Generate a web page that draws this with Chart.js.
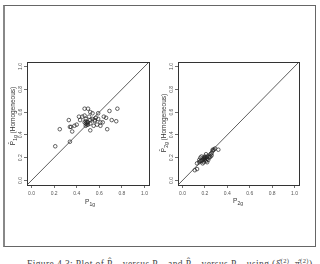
<!DOCTYPE html>
<html>
<head>
<meta charset="utf-8">
<script src="https://cdn.jsdelivr.net/npm/chart.js@4/dist/chart.umd.min.js"></script>
<style>
  body { margin: 0; width: 320px; height: 264px; background: #fff; position: relative; overflow: hidden; }
  #frame { position: absolute; left: 3px; top: 5px; width: 310px; height: 240px; border: 1px solid #666; border-left: 2px solid #888; }
  canvas { position: absolute; }
  .lab { position: absolute; font-family: "Liberation Sans", Arial, sans-serif; font-size: 6.5px; color: #333; white-space: nowrap; }
  .rot { transform: translate(-50%, -50%) rotate(-90deg); }
  .hz { transform: translate(-50%, -50%); }
  .lab sub { font-size: 5px; vertical-align: -2px; line-height: 0; }
  #caption { position: absolute; left: 27px; top: 256px; font-family: "Liberation Serif", "DejaVu Serif", serif; font-size: 9.5px; line-height: 10px; letter-spacing: 0.4px; color: #444; white-space: nowrap; }
  #caption sub { font-size: 6.5px; }
  #caption sup { font-size: 6.5px; }
</style>
</head>
<body>
<div id="frame"></div>
<canvas id="chart1" width="155" height="160" style="left:0px; top:50px;"></canvas>
<canvas id="chart2" width="160" height="160" style="left:155px; top:50px;"></canvas>

<div class="lab rot" style="left:12px; top:116px;">P&#770;<sub>1g</sub> (Homogeneous)</div>
<div class="lab hz" style="left:90px; top:201px;">P<sub>1g</sub></div>
<div class="lab rot" style="left:163px; top:123px;">P&#770;<sub>2g</sub> (Homogeneous)</div>
<div class="lab hz" style="left:238px; top:200px;">P<sub>2g</sub></div>

<div id="caption">Figure 4.3: Plot of P&#770;<sub>1g</sub> versus P<sub>1g</sub> and P&#770;<sub>2g</sub> versus P<sub>2g</sub> using (&delta;&#770;<sup>(2)</sup>, &pi;&#770;<sup>(2)</sup>)</div>

<script>
// ===== Data =====
const axisMin = -0.04;
const axisMax = 1.04;
const tickValues = [0, 0.2, 0.4, 0.6, 0.8, 1.0];

// Left panel: P1g vs estimated P1g
const p1g = [0.21, 0.25, 0.34, 0.33, 0.34, 0.35, 0.36, 0.38, 0.40, 0.42, 0.43, 0.45, 0.47, 0.50, 0.47, 0.48,
             0.48, 0.48, 0.49, 0.50, 0.51, 0.52, 0.54, 0.52, 0.52, 0.52, 0.54, 0.55, 0.56, 0.57, 0.58, 0.59,
             0.61, 0.61, 0.63, 0.64, 0.66, 0.67, 0.69, 0.71, 0.75, 0.76, 0.56, 0.59, 0.50, 0.47, 0.49, 0.48];
const p1gHat = [0.30, 0.45, 0.34, 0.53, 0.47, 0.47, 0.43, 0.48, 0.49, 0.56, 0.53, 0.56, 0.63, 0.63, 0.57, 0.54,
                0.50, 0.48, 0.49, 0.49, 0.56, 0.60, 0.59, 0.53, 0.50, 0.44, 0.54, 0.48, 0.53, 0.55, 0.49, 0.59,
                0.48, 0.51, 0.51, 0.56, 0.55, 0.45, 0.61, 0.53, 0.52, 0.63, 0.52, 0.54, 0.51, 0.51, 0.51, 0.52];

// Right panel: P2g vs estimated P2g
const p2g = [0.11, 0.13, 0.13, 0.15, 0.15, 0.16, 0.17, 0.18, 0.19, 0.20, 0.20, 0.20, 0.21, 0.22, 0.22, 0.23,
             0.24, 0.25, 0.25, 0.26, 0.27, 0.27, 0.28, 0.32, 0.29, 0.16, 0.17, 0.19, 0.18, 0.21, 0.22, 0.24,
             0.26, 0.19, 0.20, 0.21];
const p2gHat = [0.09, 0.10, 0.15, 0.16, 0.18, 0.20, 0.17, 0.18, 0.20, 0.18, 0.20, 0.21, 0.17, 0.19, 0.21, 0.18,
                0.21, 0.23, 0.21, 0.24, 0.26, 0.27, 0.27, 0.27, 0.28, 0.17, 0.21, 0.16, 0.15, 0.23, 0.16, 0.20,
                0.22, 0.19, 0.19, 0.20];

// draws the R-style box round the plot region
const boxPlugin = {
    id: 'box',
    afterDraw(chart) {
        const { ctx, chartArea: a } = chart;
        ctx.save();
        ctx.strokeStyle = '#333';
        ctx.lineWidth = 1;
        ctx.strokeRect(Math.round(a.left) + 0.5, Math.round(a.top) + 0.5,
                       Math.round(a.right - a.left), Math.round(a.bottom - a.top));
        ctx.restore();
    }
};

function makePanel(canvasId, xs, ys, yAxisWidth, padRight) {
    const points = xs.map((x, i) => ({ x: x, y: ys[i] }));
    const ctx = document.getElementById(canvasId).getContext('2d');

    const tickFont = { family: 'Liberation Sans', size: 5 };

    return new Chart(ctx, {
        type: 'scatter',
        data: {
            datasets: [{
                data: points,
                pointStyle: 'circle',
                pointRadius: 1.8,
                pointBorderWidth: 0.7,
                borderColor: '#222',
                backgroundColor: 'rgba(0,0,0,0)'
            }, {
                type: 'line',
                data: [{ x: axisMin, y: axisMin }, { x: axisMax, y: axisMax }],
                borderColor: '#333',
                borderWidth: 0.8,
                pointRadius: 0
            }]
        },
        options: {
            responsive: false,
            animation: false,
            events: [],
            layout: { padding: { top: 12, right: padRight, left: 0, bottom: 0 } },
            plugins: { legend: { display: false }, tooltip: { enabled: false } },
            scales: {
                x: {
                    type: 'linear',
                    min: axisMin,
                    max: axisMax,
                    afterBuildTicks: s => { s.ticks = tickValues.map(v => ({ value: v })); },
                    afterFit: s => { s.height = 25; },
                    border: { display: false },
                    grid: { drawOnChartArea: false, tickLength: 3, color: '#333', lineWidth: 0.7 },
                    ticks: { font: tickFont, color: '#555', padding: 3, maxRotation: 0,
                             callback: v => v.toFixed(1) }
                },
                y: {
                    type: 'linear',
                    min: axisMin,
                    max: axisMax,
                    afterBuildTicks: s => { s.ticks = tickValues.map(v => ({ value: v })); },
                    afterFit: s => { s.width = yAxisWidth; },
                    border: { display: false },
                    grid: { drawOnChartArea: false, tickLength: 3, color: '#333', lineWidth: 0.7 },
                    ticks: { font: tickFont, color: '#555', padding: 0, minRotation: 90, maxRotation: 90,
                             crossAlign: 'center', callback: v => v.toFixed(1) }
                }
            }
        },
        plugins: [boxPlugin]
    });
}

makePanel('chart1', p1g, p1gHat, 27, 6);
makePanel('chart2', p2g, p2gHat, 23, 16);
</script>
</body>
</html>
